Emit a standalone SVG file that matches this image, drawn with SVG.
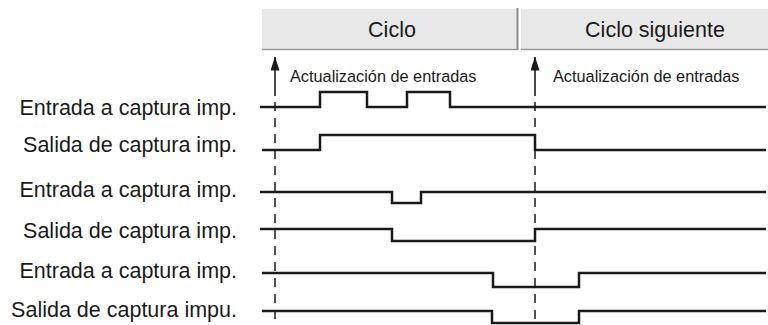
<svg xmlns="http://www.w3.org/2000/svg" width="768" height="325" viewBox="0 0 768 325">
<style>
text{font-family:"Liberation Sans",Arial,sans-serif;fill:#1a1a1a}
.lbl{font-size:21.5px;text-anchor:end}
.hdr{font-size:21.5px;text-anchor:middle}
.upd{font-size:16.3px}
.sig{fill:none;stroke:#1a1a1a;stroke-width:2.5;stroke-linejoin:miter}
.dash{fill:none;stroke:#1a1a1a;stroke-width:1.5;stroke-dasharray:9 7}
.shaft{fill:none;stroke:#1a1a1a;stroke-width:1.6}
.box{fill:#e8e8e8}
</style>
<defs>
<marker id="ah" markerWidth="14" markerHeight="9" refX="13.5" refY="4.5" orient="auto" markerUnits="userSpaceOnUse" viewBox="0 0 14 9">
<path d="M0,0 L14,4.5 L0,9 Z" fill="#1a1a1a"/>
</marker>
</defs>
<g id="header">
<g id="ciclo">
<rect class="box" x="262" y="9" width="256" height="41"/>
<line x1="262" y1="49.5" x2="518" y2="49.5" stroke="#9a9a9a" stroke-width="1.5"/>
<line x1="517.5" y1="8" x2="517.5" y2="50" stroke="#8a8a8a" stroke-width="2"/>
<text class="hdr" x="392" y="37">Ciclo</text>
</g>
<g id="ciclo-siguiente">
<rect class="box" x="521" y="9" width="247" height="41"/>
<line x1="521" y1="49.5" x2="768" y2="49.5" stroke="#9a9a9a" stroke-width="1.5"/>
<text class="hdr" x="655" y="37">Ciclo siguiente</text>
</g>
</g>
<g id="labels">
<g id="lbl1"><text class="lbl" x="237" y="115">Entrada a captura imp.</text></g>
<g id="lbl2"><text class="lbl" x="237" y="152">Salida de captura imp.</text></g>
<g id="lbl3"><text class="lbl" x="237" y="197">Entrada a captura imp.</text></g>
<g id="lbl4"><text class="lbl" x="237" y="238">Salida de captura imp.</text></g>
<g id="lbl5"><text class="lbl" x="237" y="278">Entrada a captura imp.</text></g>
<g id="lbl6"><text class="lbl" x="237" y="317">Salida de captura impu.</text></g>
</g>
<g id="update1">
<line class="shaft" x1="275" y1="96" x2="275" y2="57" marker-end="url(#ah)"/>
<line class="dash" x1="275" y1="102" x2="275" y2="325"/>
<text class="upd" x="290" y="82">Actualización de entradas</text>
</g>
<g id="update2">
<line class="shaft" x1="535" y1="96" x2="535" y2="57" marker-end="url(#ah)"/>
<line class="dash" x1="535" y1="102" x2="535" y2="325"/>
<text class="upd" x="553" y="82">Actualización de entradas</text>
</g>
<g id="signals">
<path class="sig" d="M260,107 H320 V92 H367 V107 H407 V92 H450 V107 H766"/>
<path class="sig" d="M262,150 H320 V135 H535 V150 H766"/>
<path class="sig" d="M260,192 H392 V203 H421 V192 H766"/>
<path class="sig" d="M260,229 H392 V241 H535 V229 H766"/>
<path class="sig" d="M262,273 H493 V287 H579 V273 H766"/>
<path class="sig" d="M262,311 H492 V323 H579 V311 H766"/>
</g>
</svg>
